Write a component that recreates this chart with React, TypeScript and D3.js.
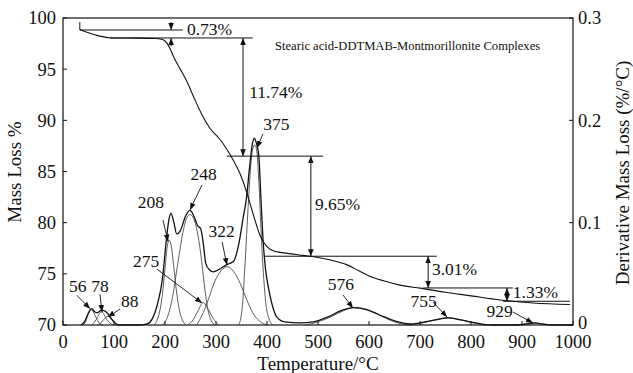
import { useMemo } from "react";
import * as d3 from "d3";

const WIDTH = 633;
const HEIGHT = 373;
const PLOT = { left: 63, right: 573, top: 18, bottom: 325 };
const FONT = "'Liberation Serif', 'Times New Roman', Times, serif";

// TG curve: [temperature °C, mass %]
const tgCurve: [number, number][] = [
  [33, 98.85], [50, 98.55], [70, 98.25], [92, 98.07], [130, 98.04], [180, 98.0], [195, 97.9],
  [203, 97.6], [210, 97.0], [218, 96.1], [230, 95.0], [243, 93.8], [257, 92.2], [272, 90.6],
  [290, 89.1], [305, 88.3], [321, 87.2], [335, 86.0], [347, 84.8], [360, 83.0], [373, 80.8],
  [386, 78.8], [399, 77.7], [415, 77.2], [440, 77.0], [470, 76.8], [500, 76.6], [529, 76.3],
  [556, 75.9], [580, 75.3], [600, 74.8], [630, 74.3], [661, 73.9], [700, 73.6], [750, 73.2],
  [800, 72.85], [857, 72.45], [922, 72.15], [994, 72.0],
];

// DTG total: [temperature °C, %/°C]
const dtgTotal: [number, number][] = [
  [35, 0], [42, 0.003], [50, 0.012], [56, 0.016], [62, 0.013], [67, 0.012], [74, 0.014],
  [80, 0.014], [88, 0.011], [95, 0.006], [102, 0.002], [110, 0], [150, 0], [165, 0.001],
  [175, 0.006], [185, 0.02], [195, 0.045], [202, 0.08], [208, 0.104], [212, 0.109],
  [217, 0.101], [223, 0.089], [230, 0.092], [240, 0.106], [249, 0.112], [257, 0.106],
  [264, 0.097], [270, 0.094], [275, 0.08], [280, 0.06], [287, 0.054], [295, 0.052],
  [305, 0.054], [321, 0.059], [334, 0.062], [345, 0.08], [353, 0.104], [360, 0.125],
  [366, 0.155], [371, 0.176], [375, 0.1825], [379, 0.178], [384, 0.165], [388, 0.125],
  [392, 0.085], [397, 0.055], [403, 0.036], [410, 0.02], [419, 0.008], [435, 0.003],
  [465, 0.002], [490, 0.003], [520, 0.008], [545, 0.014], [570, 0.017], [595, 0.015],
  [620, 0.01], [650, 0.004], [680, 0.001], [700, 0.002], [730, 0.005], [755, 0.007],
  [780, 0.005], [810, 0.002], [840, 0], [890, 0], [910, 0.001], [925, 0.002], [940, 0.001],
  [960, 0], [1000, 0],
];

// deconvoluted peaks
const peak56: [number, number][] = [[40, 0], [45, 0.004], [50, 0.011], [54, 0.015], [58, 0.014], [64, 0.008], [71, 0.002], [79, 0]];
const peak78: [number, number][] = [[56, 0], [62, 0.003], [68, 0.008], [74, 0.0125], [78, 0.012], [85, 0.006], [92, 0.002], [99, 0]];
const peak88: [number, number][] = [[69, 0], [76, 0.003], [83, 0.007], [89, 0.0085], [95, 0.006], [101, 0.002], [108, 0]];
const peak208: [number, number][] = [[178, 0], [188, 0.01], [195, 0.03], [200, 0.055], [204, 0.075], [208, 0.083], [212, 0.078], [217, 0.058], [222, 0.035], [228, 0.015], [235, 0.004], [242, 0]];
const peak248: [number, number][] = [[195, 0], [205, 0.008], [215, 0.028], [225, 0.06], [235, 0.09], [242, 0.104], [249, 0.108], [256, 0.104], [263, 0.092], [270, 0.07], [277, 0.04], [283, 0.018], [290, 0.005], [298, 0]];
const peak275: [number, number][] = [[245, 0], [255, 0.005], [265, 0.014], [275, 0.022], [285, 0.015], [295, 0.006], [305, 0]];
const peak322: [number, number][] = [[262, 0], [275, 0.012], [285, 0.025], [297, 0.042], [310, 0.053], [322, 0.057], [335, 0.052], [348, 0.04], [360, 0.025], [372, 0.012], [385, 0.004], [400, 0]];
const peak375: [number, number][] = [[345, 0], [352, 0.02], [357, 0.06], [363, 0.115], [368, 0.155], [372, 0.172], [376, 0.176], [380, 0.17], [384, 0.14], [388, 0.095], [393, 0.05], [398, 0.02], [404, 0.006], [412, 0]];
const peak576: [number, number][] = [[475, 0], [500, 0.003], [525, 0.008], [550, 0.014], [570, 0.017], [590, 0.016], [615, 0.011], [640, 0.005], [665, 0.001], [685, 0]];
const peak755: [number, number][] = [[680, 0], [705, 0.002], [730, 0.005], [755, 0.007], [780, 0.005], [805, 0.002], [830, 0]];
const peak929: [number, number][] = [[885, 0], [905, 0.001], [922, 0.002], [940, 0.001], [960, 0]];

const peaks = [peak56, peak78, peak88, peak208, peak248, peak275, peak322, peak375, peak576, peak755, peak929];

// peak labels: text, label centre (T, dtg), arrow from -> to (T, dtg)
const peakLabels = [
  { text: "56", tx: 29, ty: 0.032, x1: 27, y1: 0.029, x2: 53, y2: 0.016 },
  { text: "78", tx: 72.5, ty: 0.032, x1: 72.5, y1: 0.03, x2: 76.5, y2: 0.0127 },
  { text: "88", tx: 131, ty: 0.0176, x1: 112, y1: 0.0156, x2: 88, y2: 0.0078 },
  { text: "208", tx: 172.5, ty: 0.114, x1: 196, y1: 0.1026, x2: 206, y2: 0.0816 },
  { text: "248", tx: 275.5, ty: 0.1417, x1: 272.5, y1: 0.1369, x2: 249, y2: 0.1124 },
  { text: "275", tx: 163, ty: 0.0567, x1: 184, y1: 0.0547, x2: 272.5, y2: 0.0215 },
  { text: "322", tx: 311, ty: 0.086, x1: 312, y1: 0.0811, x2: 321.5, y2: 0.0587 },
  { text: "375", tx: 418.5, ty: 0.1906, x1: 392, y1: 0.1867, x2: 380.4, y2: 0.173 },
  { text: "576", tx: 545, ty: 0.0342, x1: 549, y1: 0.0293, x2: 568.6, y2: 0.0166 },
  { text: "755", tx: 707, ty: 0.0176, x1: 725.5, y1: 0.0225, x2: 753, y2: 0.0078 },
  { text: "929", tx: 856, ty: 0.0078, x1: 882, y1: 0.0127, x2: 921.5, y2: 0.002 },
];

// mass-loss step guide lines: level (mass %), from T, to T
const stepLines = [
  { level: 98.83, from: 33, to: 235 },
  { level: 98.05, from: 92, to: 372 },
  { level: 86.5, from: 321, to: 510 },
  { level: 76.72, from: 396, to: 733 },
  { level: 73.62, from: 706, to: 882 },
  { level: 72.32, from: 863, to: 994 },
];

// mass-loss steps: label, arrow temperature, top & bottom mass, label position
const stepArrows = [
  { text: "11.74%", at: 353, top: 98.05, bottom: 86.5, tx: 365, ty: 92.18 },
  { text: "9.65%", at: 486, top: 86.5, bottom: 76.72, tx: 494, ty: 81.24 },
  { text: "3.01%", at: 716, top: 76.72, bottom: 73.62, tx: 723.5, ty: 74.89 },
  { text: "1.33%", at: 870.6, top: 73.62, bottom: 72.32, tx: 882, ty: 72.64 },
];

const massTicks = [70, 75, 80, 85, 90, 95, 100];
const dtgTicks = [0, 0.1, 0.2, 0.3];
const tempTicks = [0, 100, 200, 300, 400, 500, 600, 700, 800, 900, 1000];

export default function App() {
  const x = useMemo(() => d3.scaleLinear().domain([0, 1000]).range([PLOT.left, PLOT.right]), []);
  const yMass = useMemo(() => d3.scaleLinear().domain([70, 100]).range([PLOT.bottom, PLOT.top]), []);
  const yDtg = useMemo(() => d3.scaleLinear().domain([0, 0.3]).range([PLOT.bottom, PLOT.top]), []);

  const tgLine = d3.line<[number, number]>().x((d) => x(d[0])).y((d) => yMass(d[1])).curve(d3.curveMonotoneX);
  const dtgLine = d3.line<[number, number]>().x((d) => x(d[0])).y((d) => yDtg(d[1])).curve(d3.curveMonotoneX);

  const ink = "#111";

  return (
    <svg width={WIDTH} height={HEIGHT} style={{ position: "absolute", left: 0, top: 0, background: "#fff", fontFamily: FONT }}>
      <defs>
        <marker id="head" viewBox="0 0 10 10" refX="10" refY="5" markerWidth="7" markerHeight="7" markerUnits="userSpaceOnUse" orient="auto-start-reverse">
          <path d="M0,1 L10,5 L0,9 z" fill={ink} />
        </marker>
      </defs>

      <rect x={PLOT.left} y={PLOT.top} width={PLOT.right - PLOT.left} height={PLOT.bottom - PLOT.top} fill="none" stroke={ink} strokeWidth={1.2} />

      {/* bottom axis */}
      {tempTicks.map((t) => (
        <g key={`t${t}`}>
          <line x1={x(t)} x2={x(t)} y1={PLOT.bottom} y2={PLOT.bottom - 4} stroke={ink} />
          <text x={x(t)} y={348} textAnchor="middle" fontSize={18.5} fill={ink}>{t}</text>
        </g>
      ))}
      {/* left axis */}
      {massTicks.map((m) => (
        <g key={`m${m}`}>
          <line x1={PLOT.left} x2={PLOT.left + 4} y1={yMass(m)} y2={yMass(m)} stroke={ink} />
          <text x={56} y={yMass(m)} dy="0.35em" textAnchor="end" fontSize={18.5} fill={ink}>{m}</text>
        </g>
      ))}
      {/* right axis */}
      {dtgTicks.map((v) => (
        <g key={`d${v}`}>
          <line x1={PLOT.right} x2={PLOT.right - 4} y1={yDtg(v)} y2={yDtg(v)} stroke={ink} />
          <text x={578} y={yDtg(v)} dy={v === 0 ? "0.2em" : "0.35em"} fontSize={18.5} fill={ink}>{d3.format("~g")(v)}</text>
        </g>
      ))}

      <text transform={`translate(21,172) rotate(-90)`} textAnchor="middle" fontSize={19} fill={ink}>Mass Loss %</text>
      <text transform={`translate(622,173) rotate(-90)`} textAnchor="middle" fontSize={19} dy="0.35em" fill={ink}>Derivative Mass Loss (%/°C)</text>
      <text x={318} y={370} textAnchor="middle" fontSize={19} fill={ink}>Temperature/°C</text>

      {/* deconvoluted peaks */}
      {peaks.map((p, i) => (
        <path key={`p${i}`} d={dtgLine(p) ?? ""} fill="none" stroke="#333" strokeWidth={0.8} />
      ))}
      <path d={dtgLine(dtgTotal) ?? ""} fill="none" stroke={ink} strokeWidth={1.3} />
      <path d={tgLine(tgCurve) ?? ""} fill="none" stroke={ink} strokeWidth={1.1} />

      {/* step guides */}
      <line x1={x(33)} x2={x(33)} y1={yMass(99.6)} y2={yMass(98.83)} stroke={ink} />
      {stepLines.map((s, i) => (
        <line key={`s${i}`} x1={x(s.from)} x2={x(s.to)} y1={yMass(s.level)} y2={yMass(s.level)} stroke={ink} strokeWidth={1} />
      ))}
      {/* 0.73% step: arrows pointing in from outside */}
      <line x1={x(212)} x2={x(212)} y1={yMass(99.6)} y2={yMass(98.83)} stroke={ink} markerEnd="url(#head)" />
      <line x1={x(212)} x2={x(212)} y1={yMass(97.25)} y2={yMass(98.05)} stroke={ink} markerEnd="url(#head)" />
      <text x={x(243)} y={yMass(98.34)} fontSize={17.5} fill={ink}>0.73%</text>
      {stepArrows.map((s) => (
        <g key={s.text}>
          <line x1={x(s.at)} x2={x(s.at)} y1={yMass(s.top)} y2={yMass(s.bottom)} stroke={ink} markerStart="url(#head)" markerEnd="url(#head)" />
          <text x={x(s.tx)} y={yMass(s.ty)} fontSize={17.5} fill={ink}>{s.text}</text>
        </g>
      ))}

      {/* peak labels */}
      {peakLabels.map((l) => (
        <g key={l.text}>
          <line x1={x(l.x1)} y1={yDtg(l.y1)} x2={x(l.x2)} y2={yDtg(l.y2)} stroke={ink} strokeWidth={0.9} markerEnd="url(#head)" />
          <text x={x(l.tx)} y={yDtg(l.ty)} textAnchor="middle" fontSize={17.5} fill={ink}>{l.text}</text>
        </g>
      ))}

      <text x={x(415.7)} y={yMass(96.87)} fontSize={12.6} fill={ink}>Stearic acid-DDTMAB-Montmorillonite Complexes</text>
    </svg>
  );
}
